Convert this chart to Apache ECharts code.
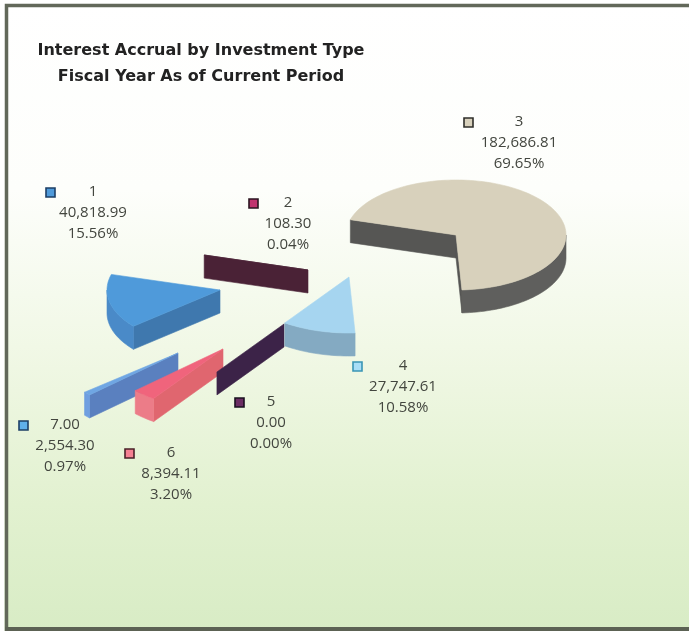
<!DOCTYPE html>
<html><head><meta charset="utf-8">
<style>html,body{margin:0;padding:0;background:#fff}#c{width:689px;height:631px}</style>
<script src="https://cdn.jsdelivr.net/npm/echarts@6/dist/echarts.min.js"></script>
</head><body><div id="c"></div>
<script>
// ---- data ----
const categories = ['1','2','3','4','5','6','7.00'];
const values = [40818.99,108.30,182686.81,27747.61,0.00,8394.11,2554.30];
const percents = ['15.56%','0.04%','69.65%','10.58%','0.00%','3.20%','0.97%'];
const titleLines = ['Interest Accrual by Investment Type','Fiscal Year As of Current Period'];

// ---- look ----
const firstAngle = 140, tilt = 0.5, depth = 23;
const topColors =  ['#4f9ada','#4a2236','#d8d1bc','#a6d5f0','#3c2348','#f0647c','#6fa6e3'];
const rimColors =  ['#4a8ac8','#4a2236','#5f5f5d','#84aac2','#3c2348','#ec7c88','#6f9fe0'];
const wallColors = ['#3f78ae','#4a2236','#565654','#84aac2','#3c2348','#e0666f','#5a80bf'];
const swatchColors=['#4f9ada','#c0326e','#d8d1bc','#a9def7','#6b2c63','#f58092','#5fb0ea'];
const swatchBorders=['#1d3f66','#2a1420','#2f2f2a','#3a95b5','#1a1020','#4a2028','#1d3f66'];
// explode layout: pie centre [x,y] and radius for every slice
const centres = [[220,290],[308,270],[456,235],[349,277],[284,324],[223,349],[178,353]];
const radii = [113,108,110,112,117,121,122];
// label layout: swatch, label centre x, first line y
const labelPos = [[50,93,192],[253,288,203],[468,519,122],[357,403,366],[239,271,402],[129,171,453],[23,65,425]];
const drawOrder = [2,1,0,6,5,4,3];

const total = values.reduce((a,b)=>a+b,0);
const starts = []; { let a = firstAngle; values.forEach(v=>{starts.push(a); a += v/total*360;}); }
const rad = d => d*Math.PI/180;
const fmt = v => v.toLocaleString('en-US',{minimumFractionDigits:2,maximumFractionDigits:2});

function rim(i, d, dz){ const [cx,cy]=centres[i], r=radii[i];
  return [cx + r*Math.cos(rad(d)), cy + r*tilt*Math.sin(rad(d)) + (dz||0)]; }
function arcPts(i,a,b,dz){ const p=[]; const n=Math.max(1,Math.ceil(Math.abs(b-a)/2));
  for(let k=0;k<=n;k++) p.push(rim(i,a+(b-a)*k/n,dz)); return p; }
function poly(points,fill,z,stroke){ return {type:'polygon',z2:z,shape:{points},
  style:{fill,stroke:stroke||fill,lineWidth:0.6}}; }

function renderSlice(params, api){
  const i = api.value(0), val = api.value(1);
  const a = starts[i], b = a + val/total*360;
  const [cx,cy]=centres[i];
  const kids=[];
  const radial = d => { const e=rim(i,d); return [[cx,cy],e,[e[0],e[1]+depth],[cx,cy+depth]]; };
  if (Math.sin(rad(a-90))>0) kids.push(poly(radial(a),wallColors[i],1));
  if (b>a && Math.sin(rad(b+90))>0) kids.push(poly(radial(b),wallColors[i],1));
  // front part of the rim: angles whose sine is positive
  for (let k=Math.floor(a/360)*360; k<b; k+=360){
    const s=Math.max(a,k), e=Math.min(b,k+180);
    if(e>s){ const top=arcPts(i,s,e), low=arcPts(i,e,s,depth);
      kids.push(poly(top.concat(low),rimColors[i],2)); }
  }
  if (b>a) kids.push(poly([[cx,cy]].concat(arcPts(i,a,b)),topColors[i],3));
  return {type:'group',children:kids};
}
function renderLabel(params, api){
  const i = api.value(0), val = api.value(1);
  const [sx,tx,y]=labelPos[i];
  const kids=[{type:'rect',shape:{x:sx-4,y:y-4,width:9,height:9},
    style:{fill:swatchColors[i],stroke:swatchBorders[i],lineWidth:1.6}}];
  [categories[i],fmt(val),percents[i]].forEach((t,k)=>kids.push({type:'text',
    style:{text:t,x:tx,y:y+k*21,textAlign:'center',textVerticalAlign:'middle',
      font:'15px "Open Sans"',fill:'#43463f'}}));
  return {type:'group',children:kids};
}
const sliceData = drawOrder.map(i=>[i,values[i]]);
const labelData = categories.map((c,i)=>[i,values[i]]);

const chart = echarts.init(document.getElementById('c'),null,{renderer:'canvas'});
chart.setOption({
  animation:false,
  backgroundColor:{type:'linear',x:0,y:0,x2:0,y2:1,colorStops:[
    {offset:0,color:'#ffffff'},{offset:0.3,color:'#fdfefb'},{offset:0.55,color:'#f1f8e6'},
    {offset:0.8,color:'#e2f1d0'},{offset:1,color:'#d8ecc5'}]},
  title:{text:titleLines.join('\n'),left:196,top:33,textAlign:'center',
    textStyle:{fontFamily:'DejaVu Sans',fontWeight:'bold',fontSize:16,lineHeight:26,color:'#222222'}},
  graphic:[
    {type:'polyline',z:10,shape:{points:[[6.5,631],[6.5,5.5],[689,5.5]]},style:{fill:null,stroke:'#62685a',lineWidth:3.5}},
    {type:'line',z:10,shape:{x1:5,y1:629,x2:689,y2:629},style:{stroke:'#5c6254',lineWidth:4}},
    {type:'rect',z:9,shape:{x:0,y:0,width:689,height:3.5},style:{fill:'#ffffff'}},
    {type:'rect',z:9,shape:{x:0,y:0,width:4.5,height:631},style:{fill:'#ffffff'}}
  ],
  series:[
    {type:'custom',coordinateSystem:'none',data:sliceData,renderItem:renderSlice,encode:{value:1},silent:true},
    {type:'custom',coordinateSystem:'none',data:labelData,renderItem:renderLabel,encode:{value:1},silent:true}
  ]
});
</script></body></html>
